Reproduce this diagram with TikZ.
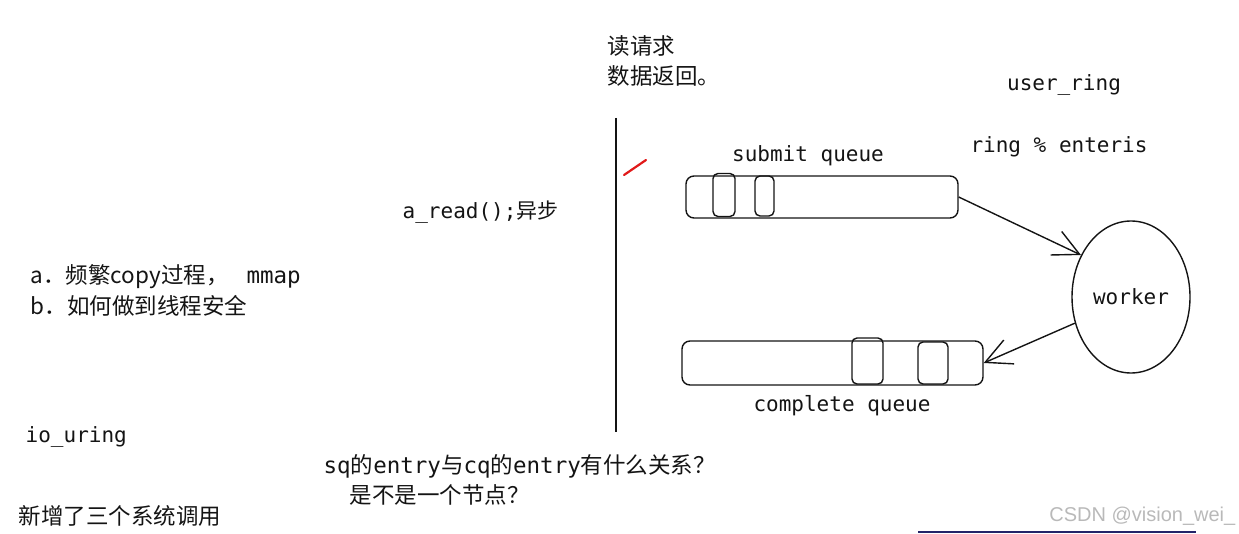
\documentclass[tikz,border=0pt]{standalone}
\usepackage{fontspec}
\setmainfont{Noto Sans CJK SC}
\setmonofont{DejaVu Sans Mono}
\newfontfamily\cjk{Noto Sans CJK SC}
\newfontfamily\wmfont{Liberation Sans}
\usepackage{xcolor}
\usetikzlibrary{shapes.geometric,arrows.meta}
\definecolor{inkcol}{RGB}{20,20,20}
\definecolor{markred}{RGB}{225,25,25}
\definecolor{wmgray}{RGB}{185,185,185}
\definecolor{barblue}{RGB}{35,35,105}

\begin{document}
\begin{tikzpicture}[x=1pt, y=-1pt, line width=1.4pt, color=inkcol,
    cn/.style={font=\fontsize{22.5}{26}\selectfont\cjk, inner sep=0pt, anchor=west},
    mono/.style={font=\fontsize{21}{24}\selectfont\ttfamily, inner sep=0pt},
    queue/.style={draw, rounded corners=8pt, inner sep=0pt},
    slot/.style={draw, rounded corners=5pt, inner sep=0pt},
    flow/.style={-{Straight Barb[length=26pt, width=26pt]}}]
    \useasboundingbox (0,0) rectangle (1239,534);

    % Divider and red tick
    \draw (616,118) -- (616,432);
    \draw[markred, line width=2.2pt, line cap=round] (624,175) -- (646,160);

    % Notes on the left
    \node[cn] (readreq) at (607,46) {读请求};
    \node[cn] (dataret) at (607,76) {数据返回。};
    \node[mono, anchor=west] (aread) at (402,212) {a\_read();{\cjk 异步}};
    \node[cn] (qa) at (30,277) {a．频繁copy过程，\hspace{18pt}{\ttfamily mmap}};
    \node[cn] (qb) at (30,306) {b．如何做到线程安全};
    \node[mono, anchor=west] (iouring) at (25,437) {io\_uring};
    \node[cn] (syscall) at (18,516) {新增了三个系统调用};
    \node[cn] (qentry) at (323,466) {{\ttfamily sq}的{\ttfamily entry}与{\ttfamily cq}的{\ttfamily entry}有什么关系？};
    \node[cn] (qnode) at (349,495) {是不是一个节点？};

    % Ring labels
    \node[mono] (uring) at (1064,85) {user\_ring};
    \node[mono] (entries) at (1059,147) {ring \% enteris};

    % Submit queue
    \node[mono] (sqlabel) at (808,156) {submit queue};
    \node[queue, minimum width=272pt, minimum height=42pt] (sq) at (822,197) {};
    \node[slot, minimum width=22pt, minimum height=43pt] (sqa) at (724,195) {};
    \node[slot, minimum width=19pt, minimum height=40pt] (sqb) at (764.5,196) {};

    % Complete queue
    \node[queue, minimum width=301pt, minimum height=44pt] (cq) at (832.5,363) {};
    \node[slot, minimum width=31pt, minimum height=46pt] (cqa) at (867.5,361) {};
    \node[slot, minimum width=30pt, minimum height=42pt] (cqb) at (933,363) {};
    \node[mono] (cqlabel) at (842,406) {complete queue};

    % Worker
    \node[draw, ellipse, minimum width=118pt, minimum height=152pt, mono] (worker) at (1131,297) {worker};
    \draw[flow] (sq.east) -- (worker.140);
    \draw[flow] (worker.205) -- (cq.east);

    % Watermark
    \node[font=\fontsize{20}{24}\selectfont\wmfont, text=wmgray, anchor=east, inner sep=0pt] (mark) at (1236,516) {CSDN @vision\_wei\_};
    \draw[barblue, line width=2pt] (918,532) -- (1196,532);
\end{tikzpicture}
\end{document}
